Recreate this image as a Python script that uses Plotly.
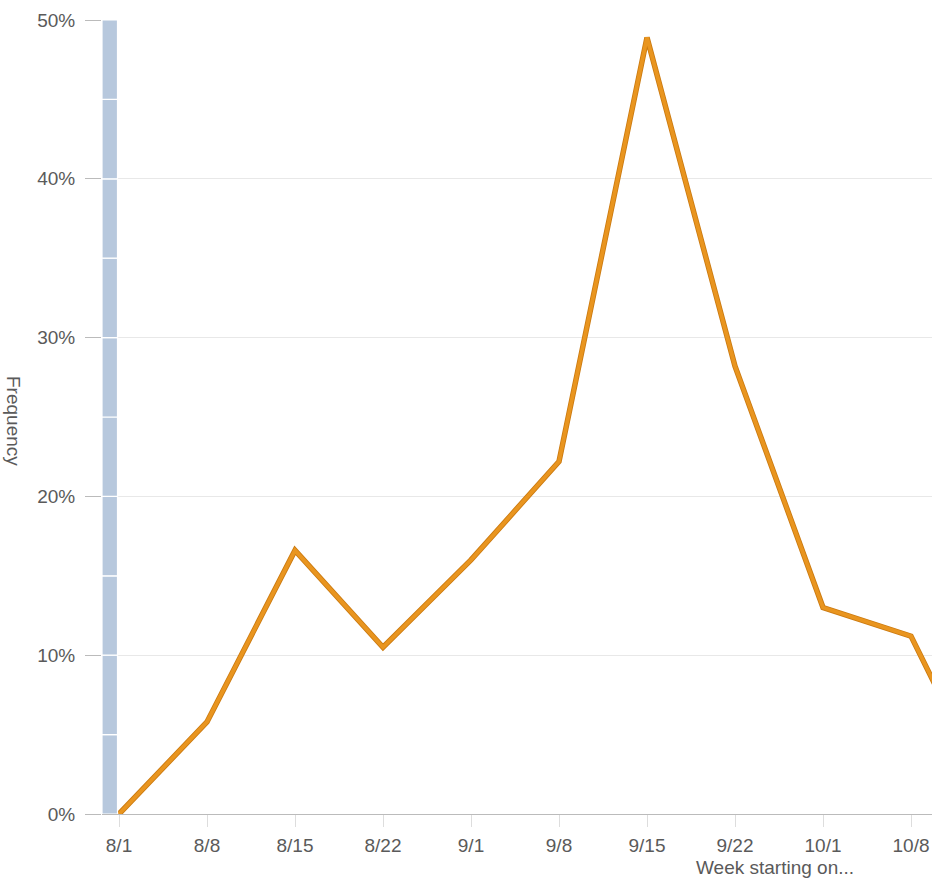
import plotly.graph_objects as go

weeks = ["8/1", "8/8", "8/15", "8/22", "9/1", "9/8", "9/15", "9/22", "10/1", "10/8", "10/15"]
frequency = [0.0, 5.8, 16.6, 10.5, 16.0, 22.2, 48.9, 28.2, 13.0, 11.2, 0.0]
y_ticks = [0, 10, 20, 30, 40, 50]
y_ticktext = ["0%", "10%", "20%", "30%", "40%", "50%"]

W, H = 932, 888
ML, MR, MT, MB = 102, 0, 20, 74
px_per_unit = 88.0
x0_px = 119
x_lo = -(x0_px - ML) / px_per_unit
x_hi = x_lo + (W - ML - MR) / px_per_unit

xs = list(range(len(weeks)))
TXT = "#5A5A5A"
FS = 19

fig = go.Figure()
fig.add_trace(go.Scatter(x=xs, y=frequency, mode="lines",
                         line=dict(color="#CB7A10", width=5.5), hoverinfo="skip",
                         showlegend=False))
fig.add_trace(go.Scatter(x=xs, y=frequency, mode="lines",
                         line=dict(color="#E9951F", width=3.8),
                         showlegend=False))

shapes = []
bar_l = -(x0_px - ML) / px_per_unit
bar_r = -1.5 / px_per_unit
for k in range(10):
    shapes.append(dict(type="rect", xref="x", yref="y", x0=bar_l, x1=bar_r,
                       y0=k * 5, y1=(k + 1) * 5, fillcolor="#B7C8DD",
                       line=dict(color="white", width=1.2), layer="above"))

fig.update_layout(
    width=W, height=H,
    margin=dict(l=ML, r=MR, t=MT, b=MB),
    paper_bgcolor="white", plot_bgcolor="white",
    font=dict(family="Liberation Sans, Arial, sans-serif", size=FS, color=TXT),
    shapes=shapes,
    xaxis=dict(range=[x_lo, x_hi], tickmode="array", tickvals=xs[:10], ticktext=weeks[:10],
               showgrid=False, zeroline=False, showline=True, linecolor="#BBBBBB", linewidth=1,
               ticks="outside", ticklen=12, tickcolor="#DDDDDD", tickfont=dict(size=FS, color=TXT),
               ticklabelstandoff=2, fixedrange=True),
    yaxis=dict(range=[0, 50], tickmode="array", tickvals=y_ticks, ticktext=y_ticktext,
               showgrid=True, gridcolor="#E8E8E8", gridwidth=1, zeroline=False, showline=False,
               ticks="outside", ticklen=16, tickcolor="#BBBBBB", tickfont=dict(size=FS, color=TXT),
               ticklabelstandoff=6, fixedrange=True),
    annotations=[
        dict(text="Frequency", textangle=90, xref="paper", yref="paper",
             x=(14 - ML) / (W - ML - MR), y=1 - (421 - MT) / (H - MT - MB),
             xanchor="center", yanchor="middle", showarrow=False,
             font=dict(size=FS, color=TXT)),
        dict(text="Week starting on...", xref="paper", yref="paper",
             x=(775 - ML) / (W - ML - MR), y=1 - (868 - MT) / (H - MT - MB),
             xanchor="center", yanchor="middle", showarrow=False,
             font=dict(size=FS, color=TXT)),
    ],
)

fig.write_html("out.html")
